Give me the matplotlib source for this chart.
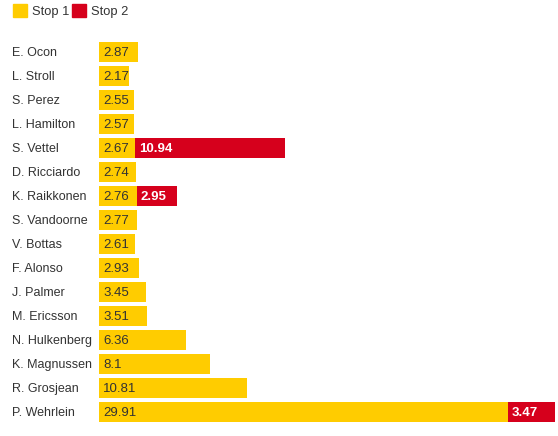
import matplotlib
matplotlib.use("Agg")
import matplotlib.pyplot as plt
from matplotlib.patches import Rectangle

plt.rcParams['font.family'] = ['Liberation Sans', 'DejaVu Sans']

drivers = ['E. Ocon', 'L. Stroll', 'S. Perez', 'L. Hamilton', 'S. Vettel', 'D. Ricciardo',
           'K. Raikkonen', 'S. Vandoorne', 'V. Bottas', 'F. Alonso', 'J. Palmer', 'M. Ericsson',
           'N. Hulkenberg', 'K. Magnussen', 'R. Grosjean', 'P. Wehrlein']
stop1 = [2.87, 2.17, 2.55, 2.57, 2.67, 2.74, 2.76, 2.77, 2.61, 2.93, 3.45, 3.51, 6.36, 8.1, 10.81, 29.91]
stop2 = [0, 0, 0, 0, 10.94, 0, 2.95, 0, 0, 0, 0, 0, 0, 0, 0, 3.47]

yellow = '#ffcc00'
red = '#d6001c'

fig = plt.figure(figsize=(5.58, 4.36), dpi=100)
ax = fig.add_axes([99 / 558, 1 - 424 / 436, 459 / 558, 384 / 436])

y = list(range(len(drivers)))
ax.barh(y, stop1, height=0.8, color=yellow)
ax.barh(y, stop2, left=stop1, height=0.8, color=red)

xmax = 33.6
ax.set_xlim(0, xmax)
ax.set_ylim(len(drivers) - 0.5, -0.5)
ax.axis('off')

pad = 4 / 459 * xmax
base = 0.17  # baseline offset below row centre, in rows
for i in y:
    ax.text(pad, i + base, f'{stop1[i]:g}', va='baseline', ha='left', fontsize=9.5, color='#333333')
    if stop2[i] > 0:
        ax.text(stop1[i] + pad, i + base, f'{stop2[i]:g}', va='baseline', ha='left',
                fontsize=9.5, color='white', fontweight='bold')
    ax.text(-87 / 459 * xmax, i + base, drivers[i], va='baseline', ha='left', fontsize=9,
            color='#333333', clip_on=False)

# legend
fig.patches.append(Rectangle((13 / 558, 1 - 17 / 436), 14 / 558, 13 / 436,
                             transform=fig.transFigure, color=yellow))
fig.text(32 / 558, 1 - 14.5 / 436, 'Stop 1', va='baseline', ha='left', fontsize=9.3, color='#333333')
fig.patches.append(Rectangle((72 / 558, 1 - 17 / 436), 14 / 558, 13 / 436,
                             transform=fig.transFigure, color=red))
fig.text(91 / 558, 1 - 14.5 / 436, 'Stop 2', va='baseline', ha='left', fontsize=9.3, color='#333333')

fig.savefig('out.png', dpi=100)
